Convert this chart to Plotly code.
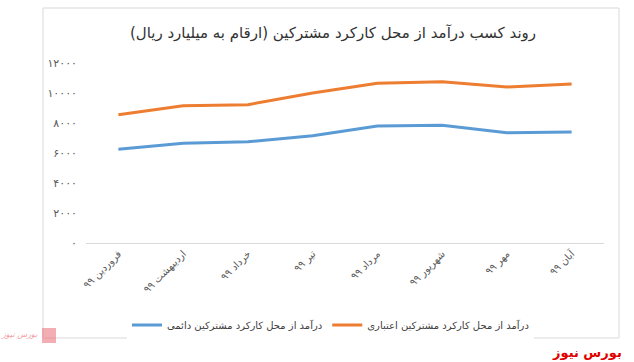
import plotly.graph_objects as go

months = ["فروردین ۹۹", "اردیبهشت ۹۹", "خرداد ۹۹", "تیر ۹۹", "مرداد ۹۹", "شهریور ۹۹", "مهر ۹۹", "آبان ۹۹"]
permanent = [6250, 6650, 6750, 7150, 7800, 7850, 7350, 7400]
credit = [8550, 9150, 9220, 10000, 10650, 10750, 10400, 10600]
ytick_vals = [0, 2000, 4000, 6000, 8000, 10000, 12000]
ytick_text = ["۰", "۲۰۰۰", "۴۰۰۰", "۶۰۰۰", "۸۰۰۰", "۱۰۰۰۰", "۱۲۰۰۰"]

name_perm = "درآمد از محل کارکرد مشترکین دائمی"
name_credit = "درآمد از محل کارکرد مشترکین اعتباری"
title = "روند کسب درآمد از محل کارکرد مشترکین (ارقام به میلیارد ریال)"

FONT = "DejaVu Sans"

fig = go.Figure()
fig.add_trace(go.Scatter(x=months, y=permanent, mode="lines", name=name_perm,
                         line=dict(color="#5B9BD5", width=3)))
fig.add_trace(go.Scatter(x=months, y=credit, mode="lines", name=name_credit,
                         line=dict(color="#ED7D31", width=3)))

L, R, T, B = 86, 30, 63, 119
W, H = 634, 362
pw, ph = W - L - R, H - T - B

def px2paper_x(px):
    return (px - L) / pw

def px2paper_y(py):
    return (H - B - py) / ph

fig.add_shape(type="rect", xref="paper", yref="paper",
              x0=px2paper_x(43), x1=px2paper_x(619),
              y0=px2paper_y(338), y1=px2paper_y(8),
              line=dict(color="#d9d9d9", width=1), fillcolor="rgba(0,0,0,0)", layer="below")

fig.add_annotation(xref="paper", yref="paper", x=px2paper_x(624), y=px2paper_y(352),
                   xanchor="right", yanchor="middle", showarrow=False,
                   text="<b>بورس نیوز</b>", font=dict(family=FONT, size=13, color="#e00000"))
fig.add_annotation(xref="paper", yref="paper", x=px2paper_x(40), y=px2paper_y(334),
                   xanchor="right", yanchor="middle", showarrow=False,
                   text="<i>بورس نیوز</i>", font=dict(family=FONT, size=8, color="#f0a0a8"))
fig.add_shape(type="rect", xref="paper", yref="paper",
              x0=px2paper_x(42), x1=px2paper_x(56), y0=px2paper_y(343), y1=px2paper_y(328),
              line=dict(width=0), fillcolor="rgba(235,120,130,0.6)")

fig.update_layout(
    width=W, height=H,
    margin=dict(l=L, r=R, t=T, b=B, autoexpand=False),
    paper_bgcolor="white", plot_bgcolor="white",
    font=dict(family=FONT, color="#595959", size=10),
    title=dict(text=title, x=333 / W, xanchor="center", xref="container",
               y=1 - 33 / H, yanchor="middle", yref="container",
               font=dict(family=FONT, size=15, color="#333333")),
    showlegend=True,
    legend=dict(orientation="h", x=0.472, xanchor="center", y=px2paper_y(325), yanchor="middle",
                font=dict(family=FONT, size=10, color="#404040"), itemwidth=30),
    xaxis=dict(type="category", range=[-0.5, 7.5], showline=True, linecolor="#d9d9d9", linewidth=1,
               showgrid=False, zeroline=False, tickangle=-45, ticks="",
               tickfont=dict(family=FONT, size=10, color="#595959")),
    yaxis=dict(range=[0, 12000], tickvals=ytick_vals, ticktext=ytick_text, showgrid=False,
               showline=False, zeroline=False, ticks="", ticklabelstandoff=8,
               tickfont=dict(family=FONT, size=11, color="#595959")),
)

fig.write_html("out.html", post_script="document.body.style.margin='0';",
               config={"displayModeBar": False})
